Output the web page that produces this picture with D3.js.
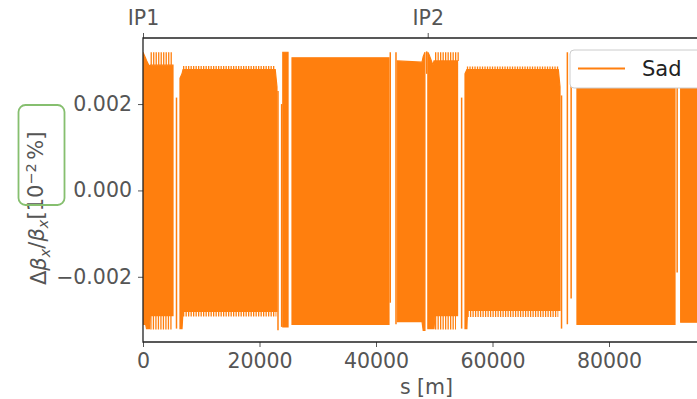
<!DOCTYPE html>
<html>
<head>
<meta charset="utf-8">
<script src="https://cdn.jsdelivr.net/npm/d3@7"></script>
<style>
  html, body { margin: 0; padding: 0; background: #fff; }
  svg { display: block; font-family: "DejaVu Sans", sans-serif; }
</style>
</head>
<body>
<svg id="chart" width="697" height="399"></svg>
<script>
// Horizontal beta-beating along the ring, s in metres.
// Envelope of the dense oscillation: upper / lower extent per s point, null breaks between sections.
const envS  = [0, 450, 600, 1100, 1250, 5150, null,
               6350, 6700, 6870, 22700, 23000, null,
               24000, 24900, null,
               25580, 42230, null,
               43650, 47900, 48100, 48400, null,
               48900, 49100, 49780, 49960, 50130, 54000, null,
               55280, 55600, 55700, 71300, 71590, null,
               74500, 91330, null,
               92300, 97750];
const envHi = [0.0032, 0.00306, 0.00301, 0.00287, 0.0029, 0.0029, null,
               0.0026, 0.0027, 0.0028, 0.0028, 0.0024, null,
               0.0032, 0.0032, null,
               0.00307, 0.00307, null,
               0.0030, 0.00297, 0.0031, 0.0032, null,
               0.0032, 0.00315, 0.0029, 0.0030, 0.0030, 0.0030, null,
               0.0027, 0.0028, 0.0028, 0.0028, 0.0024, null,
               0.0031, 0.0031, null,
               0.0031, 0.0031];
const envLo = [-0.0031, -0.0031, -0.0032, -0.0032, -0.0029, -0.0029, null,
               -0.0032, -0.0032, -0.0028, -0.0028, -0.0028, null,
               -0.00316, -0.00316, null,
               -0.0031, -0.0031, null,
               -0.00304, -0.00304, -0.00324, -0.00324, null,
               -0.0032, -0.0032, -0.0032, -0.0032, -0.0029, -0.0029, null,
               -0.0032, -0.0032, -0.00278, -0.00278, -0.00278, null,
               -0.0031, -0.0031, null,
               -0.00305, -0.00305];

// Comb of individual peaks standing above / below the envelope in the arc sections.
const toothStart = [1300, 1250, 6870, 6870, 50130, 50130, 55600, 55700];
const toothEnd   = [5150, 4980, 22700, 22900, 54250, 53730, 71300, 71300];
const toothBase  = [0.0029, -0.0029, 0.0028, -0.0028, 0.0030, -0.0029, 0.0028, -0.00278];
const toothTip   = [0.0032, -0.00322, 0.00288, -0.00292, 0.0032, -0.00322, 0.00287, -0.00293];

// Isolated excursions in the straight sections between arcs.
const spikeS  = [5750, 23175, 23800, 42450, 43430, 48700, 54700, 71850, 72850, 73500, 91700];
const spikeHi = [0.00215, 0.0023, 0.0020, 0.0032, 0.0032, 0.00322, 0.00215, 0.0022, 0.0032, 0.0030, 0.0031];
const spikeLo = [-0.0032, -0.00324, -0.00316, -0.0026, -0.0031, 0.0027, -0.0032, -0.0032, -0.0031, -0.0025, -0.0019];

// Axis ticks and annotations
const xTicks = [0, 20000, 40000, 60000, 80000];
const yTicks = [-0.002, 0.000, 0.002];
const ipS     = [0, 48878];
const ipNames = ["IP1", "IP2"];
const seriesName = "Sad";

const ORANGE = "#ff7f0e";
const FONT = "20.5px";
const svg = d3.select("#chart");

const x = d3.scaleLinear().domain([0, 97750]).range([143, 712.4]);
const y = d3.scaleLinear().domain([-0.00351, 0.00353]).range([342, 38]);

svg.append("clipPath").attr("id", "plotclip")
  .append("rect").attr("x", 143).attr("y", 38).attr("width", 570).attr("height", 304);

const plot = svg.append("g").attr("clip-path", "url(#plotclip)");

// Envelope areas
const envRows = envS.map((s, i) => ({ s, hi: envHi[i], lo: envLo[i] }));
const area = d3.area()
  .defined(d => d.s !== null)
  .x(d => x(d.s))
  .y0(d => y(d.lo))
  .y1(d => y(d.hi));
plot.append("path").datum(envRows)
  .attr("d", area)
  .attr("fill", ORANGE)
  .attr("stroke", ORANGE)
  .attr("stroke-width", 1.2);

// Peak combs
const teeth = toothStart.map((s0, i) => ({ s0, s1: toothEnd[i], base: toothBase[i], tip: toothTip[i] }));
plot.selectAll("line.tooth").data(teeth).join("line")
  .attr("class", "tooth")
  .attr("x1", d => x(d.s0))
  .attr("x2", d => x(d.s1))
  .attr("y1", d => y((d.base + d.tip) / 2))
  .attr("y2", d => y((d.base + d.tip) / 2))
  .attr("stroke", ORANGE)
  .attr("stroke-width", d => Math.abs(y(d.tip) - y(d.base)))
  .attr("stroke-dasharray", "1.3 1.2");

// Spikes
const spikes = spikeS.map((s, i) => ({ s, hi: spikeHi[i], lo: spikeLo[i] }));
plot.selectAll("line.spike").data(spikes).join("line")
  .attr("class", "spike")
  .attr("x1", d => x(d.s)).attr("x2", d => x(d.s))
  .attr("y1", d => y(d.hi)).attr("y2", d => y(d.lo))
  .attr("stroke", ORANGE)
  .attr("stroke-width", 1.5);

// Axes
const TICK_COLOR = "#555";
const fmtY = v => d3.format(".3f")(v).replace("-", "\u2212");

const gx = svg.append("g").attr("transform", "translate(0,342)")
  .call(d3.axisBottom(x).tickValues(xTicks).tickFormat(d3.format("d")).tickSize(5).tickPadding(6));
const gy = svg.append("g").attr("transform", "translate(143,0)")
  .call(d3.axisLeft(y).tickValues(yTicks).tickFormat(fmtY).tickSize(5).tickPadding(6));
const gt = svg.append("g").attr("transform", "translate(0,38)")
  .call(d3.axisTop(x).tickValues(ipS).tickFormat((d, i) => ipNames[i]).tickSize(5).tickPadding(8));

[gx, gy, gt].forEach(g => {
  g.select(".domain").remove();
  g.selectAll(".tick line").attr("stroke", TICK_COLOR).attr("stroke-width", 1);
  g.selectAll(".tick text").attr("fill", TICK_COLOR)
    .style("font-family", "DejaVu Sans").style("font-size", FONT);
});

// Frame (left, top, bottom)
svg.append("path")
  .attr("d", `M${x.range()[1]},38H143V342H${x.range()[1]}`)
  .attr("fill", "none").attr("stroke", "#222").attr("stroke-width", 1.3);

// Axis titles
svg.append("text")
  .attr("x", 426.5).attr("y", 394)
  .attr("text-anchor", "middle")
  .attr("fill", TICK_COLOR)
  .style("font-size", FONT)
  .text("s [m]");

const ylab = svg.append("text")
  .attr("transform", "translate(46,285) rotate(-90)")
  .attr("text-anchor", "start")
  .attr("fill", TICK_COLOR)
  .style("font-size", "21px");
ylab.append("tspan").text("\u0394");
ylab.append("tspan").style("font-style", "italic").text("\u03b2");
ylab.append("tspan").style("font-style", "italic").style("font-size", "14.5px").attr("dy", "0.25em").text("x");
ylab.append("tspan").attr("dy", "-0.25em").text("/");
ylab.append("tspan").style("font-style", "italic").text("\u03b2");
ylab.append("tspan").style("font-style", "italic").style("font-size", "14.5px").attr("dy", "0.25em").text("x");
ylab.append("tspan").attr("dy", "-0.25em").text("[10");
ylab.append("tspan").style("font-size", "14.5px").attr("dy", "-0.5em").text("\u22122");
ylab.append("tspan").attr("dy", "0.35em").text("\u2006%]");

// Highlight box around the unit
svg.append("rect")
  .attr("x", 18.5).attr("y", 105).attr("width", 46).attr("height", 100)
  .attr("rx", 7)
  .attr("fill", "none")
  .attr("stroke", "#86bf6f")
  .attr("stroke-width", 1.8);

// Legend
const lg = svg.append("g");
lg.append("rect")
  .attr("x", 570).attr("y", 50).attr("width", 150).attr("height", 38).attr("rx", 4)
  .attr("fill", "#fff")
  .attr("stroke", "#cccccc").attr("stroke-width", 1);
lg.append("line")
  .attr("x1", 578).attr("x2", 625).attr("y1", 68.5).attr("y2", 68.5)
  .attr("stroke", ORANGE).attr("stroke-width", 1.8);
lg.append("text")
  .attr("x", 642).attr("y", 76)
  .attr("fill", "#222")
  .style("font-size", "21px")
  .text(seriesName);
</script>
</body>
</html>
